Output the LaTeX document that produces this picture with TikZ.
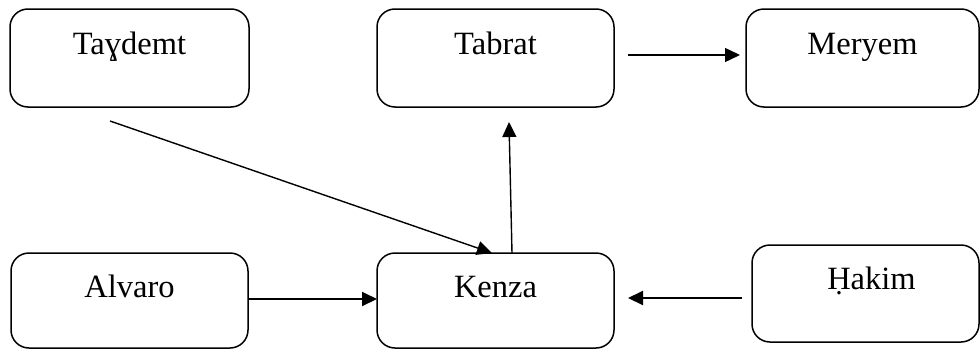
\documentclass[tikz,border=0pt]{standalone}
\usepackage{fontspec}
\setmainfont{Liberation Serif}
\usetikzlibrary{arrows.meta}
\begin{document}
\begin{tikzpicture}[x=1pt,y=-1pt,
  box/.style={draw=black, line width=1.5pt, rounded corners=18pt, inner sep=0pt},
  lbl/.style={anchor=base, inner sep=0pt, font=\fontsize{32.5}{32.5}\selectfont},
  arr/.style={line width=1.4pt, -{Triangle[length=15pt,width=14pt]}},
  thick arr/.style={line width=2pt, -{Triangle[length=15pt,width=14pt]}}]
\useasboundingbox (0,0) rectangle (980,351);
\node[box, minimum width=239pt, minimum height=98pt] (tay) at (129.5,58) {};
\node[box, minimum width=237pt, minimum height=98pt] (tab) at (495.5,58) {};
\node[box, minimum width=233pt, minimum height=98pt] (mer) at (862.5,58) {};
\node[box, minimum width=237pt, minimum height=95pt] (alv) at (129.5,300.5) {};
\node[box, minimum width=237pt, minimum height=95pt] (ken) at (495.5,300.5) {};
\node[box, minimum width=227pt, minimum height=97pt] (hak) at (865.5,293.5) {};
\node[lbl] (taytx) at (129.5,54) {Taɣdemt};
\node[lbl] (tabtx) at (495.5,54) {Tabrat};
\node[lbl] (mertx) at (862.5,54) {Meryem};
\node[lbl] (alvtx) at (129.5,297.5) {Alvaro};
\node[lbl] (kentx) at (495.5,297.5) {Kenza};
\node[lbl] (haktx) at (871.5,289.5) {Ḥakim};
\coordinate (c1) at (110,121);
\coordinate (c2) at (492,253);
\coordinate (c3) at (512,253);
\coordinate (c4) at (509,122);
\coordinate (c5) at (628,55);
\coordinate (c6) at (740,55);
\coordinate (c7) at (248,299);
\coordinate (c8) at (377,299);
\coordinate (c9) at (742,298);
\coordinate (c10) at (628,298);
\draw[arr] (c1) -- (c2);
\draw[arr] (c3) -- (c4);
\draw[arr] (c5) -- (c6);
\draw[thick arr] (c7) -- (c8);
\draw[thick arr] (c9) -- (c10);
\end{tikzpicture}
\end{document}
